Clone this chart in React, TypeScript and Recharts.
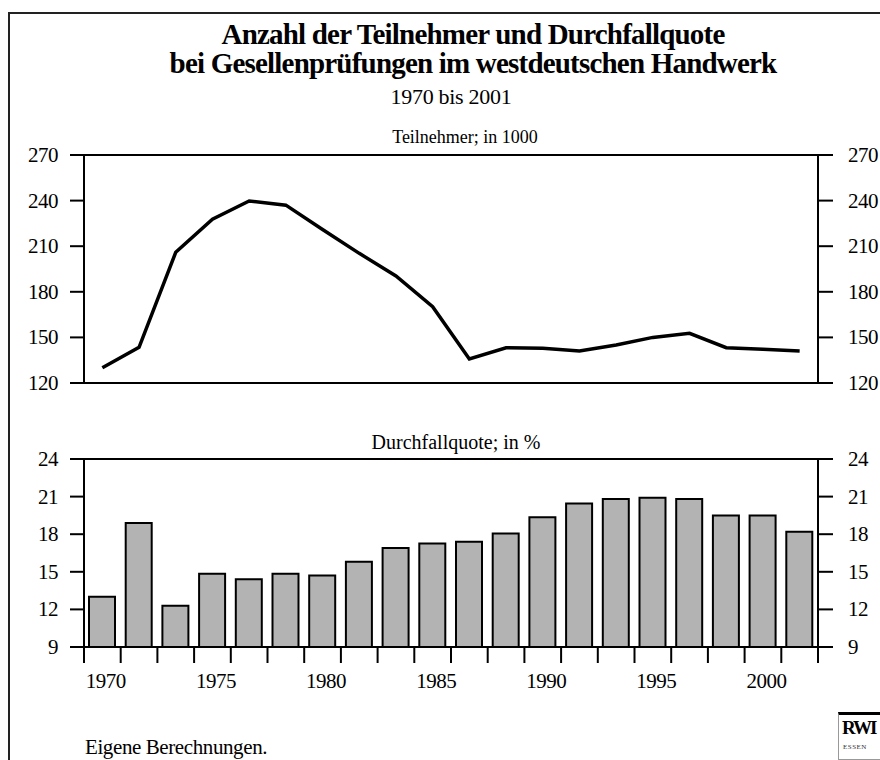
import { Bar, BarChart, Line, LineChart, ReferenceLine, XAxis, YAxis } from 'recharts'

// 20 Erhebungszeitpunkte, 1970 bis 2001
const periods = [
  '1970', '1971', '1973', '1975', '1976', '1978', '1980', '1981', '1983', '1985',
  '1986', '1988', '1990', '1991', '1993', '1995', '1996', '1998', '2000', '2001',
]
const participants = [
  130, 143.5, 206, 227.7, 239.7, 237, 221, 205.3, 190.4, 170.2,
  135.8, 143.2, 142.8, 141, 145, 150, 152.7, 143.2, 142.2, 141,
]
const failureRate = [
  13.0, 18.9, 12.3, 14.85, 14.4, 14.85, 14.7, 15.8, 16.9, 17.25,
  17.4, 18.05, 19.35, 20.45, 20.8, 20.9, 20.8, 19.5, 19.5, 18.2,
]
const yearLabels = ['1970', '1975', '1980', '1985', '1990', '1995', '2000']
const participantTicks = [120, 150, 180, 210, 240, 270]
const rateTicks = [9, 12, 15, 18, 21, 24]

const chartData = periods.map((period, i) => ({
  period,
  participants: participants[i],
  rate: failureRate[i],
}))

const fontFamily = "'Liberation Serif', 'Times New Roman', serif"
const ink = '#000'
const chartWidth = 880
const leftAxis = 84
const rightAxis = 62
const plotRight = chartWidth - rightAxis
const band = (chartWidth - leftAxis - rightAxis) / periods.length

const labelProps = { fill: ink, fontSize: 21, fontFamily, letterSpacing: -0.5 }

function YearTick({ x, y, index, payload }: { x?: number; y?: number; index?: number; payload?: { value: string } }) {
  if (x == null || y == null) return null
  const half = band / 2
  const showLabel = payload && yearLabels.includes(payload.value)
  return (
    <g>
      <line x1={x - half} x2={x - half} y1={y} y2={y + 16} stroke={ink} strokeWidth={2} />
      {index === periods.length - 1 && (
        <line x1={x + half} x2={x + half} y1={y} y2={y + 16} stroke={ink} strokeWidth={2} />
      )}
      {showLabel && (
        <text x={x + 3.5} y={y + 41} textAnchor="middle" {...labelProps}>
          {payload?.value}
        </text>
      )}
    </g>
  )
}

// one tick drawn on both sides: left label + tick, right tick + label
function BothSidesTick({ y, payload }: { y?: number; payload?: { value: number } }) {
  if (y == null) return null
  const value = String(payload?.value ?? '')
  return (
    <g>
      <line x1={leftAxis - 14} x2={leftAxis} y1={y} y2={y} stroke={ink} strokeWidth={2} />
      <text x={leftAxis - 26} y={y + 7} textAnchor="end" {...labelProps}>
        {value}
      </text>
      <line x1={plotRight} x2={plotRight + 15} y1={y} y2={y} stroke={ink} strokeWidth={2} />
      <text x={plotRight + 30} y={y + 7} textAnchor="start" {...labelProps}>
        {value}
      </text>
    </g>
  )
}

const textBase: React.CSSProperties = {
  position: 'absolute',
  left: 0,
  width: 880,
  textAlign: 'center',
  fontFamily,
  color: ink,
  whiteSpace: 'nowrap',
}

export default function App() {
  return (
    <div style={{ position: 'fixed', left: 0, top: 0, width: 880, height: 760, overflow: 'hidden', background: '#fff' }}>
      <div
        style={{
          position: 'absolute',
          left: 8,
          top: 12,
          width: 900,
          height: 800,
          borderLeft: '2px solid #222',
          borderTop: '2px solid #222',
        }}
      />

      <div style={{ ...textBase, top: 20, left: 33, fontSize: 29, fontWeight: 700, letterSpacing: -0.8, lineHeight: '29px' }}>
        Anzahl der Teilnehmer und Durchfallquote
        <br />
        bei Gesellenprüfungen im westdeutschen Handwerk
      </div>
      <div style={{ ...textBase, top: 84, left: 11, fontSize: 22, letterSpacing: -0.3 }}>1970 bis 2001</div>
      <div style={{ ...textBase, top: 127, left: 25, fontSize: 18 }}>Teilnehmer; in 1000</div>
      <div style={{ ...textBase, top: 431, left: 16, fontSize: 20 }}>Durchfallquote; in %</div>

      <div style={{ position: 'absolute', left: 0, top: 140 }}>
        <LineChart
          width={chartWidth}
          height={260}
          data={chartData}
          margin={{ top: 15, right: 0, bottom: 17, left: 0 }}
        >
          <XAxis dataKey="period" scale="band" hide />
          <YAxis
            yAxisId="l"
            orientation="left"
            width={leftAxis}
            domain={[120, 270]}
            ticks={participantTicks}
            interval={0}
            tickSize={0}
            axisLine={{ stroke: ink, strokeWidth: 2 }}
            tickLine={false}
            tick={<BothSidesTick />}
          />
          <YAxis
            yAxisId="r"
            orientation="right"
            width={rightAxis}
            domain={[120, 270]}
            axisLine={{ stroke: ink, strokeWidth: 2 }}
            tickLine={false}
            tick={false}
          />
          <ReferenceLine yAxisId="l" y={270} stroke={ink} strokeWidth={2} />
          <ReferenceLine yAxisId="l" y={120} stroke={ink} strokeWidth={2} />
          <Line
            yAxisId="l"
            type="linear"
            dataKey="participants"
            stroke={ink}
            strokeWidth={3.5}
            dot={false}
            isAnimationActive={false}
          />
        </LineChart>
      </div>

      <div style={{ position: 'absolute', left: 0, top: 440 }}>
        <BarChart
          width={chartWidth}
          height={270}
          data={chartData}
          margin={{ top: 19, right: 0, bottom: 23, left: 0 }}
          barCategoryGap={0}
        >
          <XAxis
            dataKey="period"
            height={40}
            interval={0}
            axisLine={{ stroke: ink, strokeWidth: 2 }}
            tickLine={false}
            tickSize={0}
            tickMargin={0}
            tick={<YearTick />}
          />
          <YAxis
            yAxisId="l"
            orientation="left"
            width={leftAxis}
            domain={[9, 24]}
            ticks={rateTicks}
            interval={0}
            tickSize={0}
            axisLine={{ stroke: ink, strokeWidth: 2 }}
            tickLine={false}
            tick={<BothSidesTick />}
          />
          <YAxis
            yAxisId="r"
            orientation="right"
            width={rightAxis}
            domain={[9, 24]}
            axisLine={{ stroke: ink, strokeWidth: 2 }}
            tickLine={false}
            tick={false}
          />
          <ReferenceLine yAxisId="l" y={24} stroke={ink} strokeWidth={2} />
          <Bar
            yAxisId="l"
            dataKey="rate"
            barSize={26}
            fill="#b3b3b3"
            stroke={ink}
            strokeWidth={2}
            isAnimationActive={false}
          />
        </BarChart>
      </div>

      <div style={{ position: 'absolute', left: 85, top: 735, fontFamily, fontSize: 21, letterSpacing: -0.4, color: ink }}>
        Eigene Berechnungen.
      </div>

      <div
        style={{
          position: 'absolute',
          left: 838,
          top: 712,
          width: 60,
          height: 44,
          borderTop: '3px solid #000',
          borderLeft: '1px solid #999',
          borderBottom: '1px solid #999',
          fontFamily,
        }}
      >
        <div style={{ fontSize: 19, fontWeight: 700, letterSpacing: -2, lineHeight: '22px', marginLeft: 3, marginTop: 2 }}>RWI</div>
        <div style={{ fontSize: 7, letterSpacing: 0.5, marginLeft: 4, marginTop: 4, color: '#333' }}>ESSEN</div>
      </div>
    </div>
  )
}
